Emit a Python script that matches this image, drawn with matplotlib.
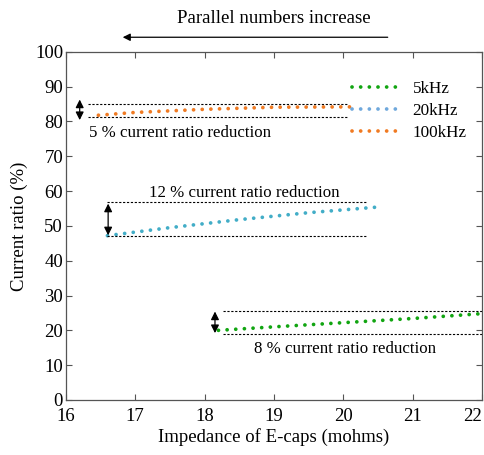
import matplotlib
matplotlib.use("Agg")
import matplotlib.pyplot as plt
from matplotlib.lines import Line2D

plt.rcParams['font.family'] = ['Liberation Serif', 'DejaVu Serif']
plt.rcParams['font.size'] = 13.5

# Current ratio versus E-cap impedance at three switching frequencies
x_5k = [18.2, 19.0, 20.0, 21.0, 22.0]
y_5k = [20.0, 21.0, 22.2, 23.4, 24.8]
x_20k = [16.6, 17.5, 18.5, 19.5, 20.55]
y_20k = [47.2, 49.5, 51.8, 53.8, 55.5]
x_100k = [16.47, 17.0, 18.0, 19.0, 20.13]
y_100k = [81.8, 82.6, 83.5, 84.1, 84.2]

series_labels = ['5kHz', '20kHz', '100kHz']
line_colors = ['#11a511', '#42adc7', '#f07a22']
legend_colors = ['#11a511', '#6fa8dc', '#f07a22']

# reduction bands: (x start, x end, lower, upper, text, text x, text y)
bands = [
    (16.32, 20.06, 81.4, 84.9, '5 % current ratio reduction', 17.64, 76.7),
    (16.6, 20.32, 47.0, 56.9, '12 % current ratio reduction', 18.58, 59.5),
    (18.27, 22.0, 19.0, 25.6, '8 % current ratio reduction', 20.02, 14.7),
]
# double arrows: (x, bottom, top)
arrows = [(16.2, 80.4, 86.3), (16.61, 47.3, 56.4), (18.15, 19.2, 25.4)]

fig = plt.figure(figsize=(4.84, 4.55), dpi=100)
ax = fig.add_axes([0.136, 0.121, 0.860, 0.765])

dot = (0, (0.01, 2.3))
for xs, ys, c in zip([x_5k, x_20k, x_100k], [y_5k, y_20k, y_100k], line_colors):
    ax.plot(xs, ys, color=c, lw=2.7, linestyle=dot, dash_capstyle='round', clip_on=False)

for (x0, x1, lo, hi, txt, tx, ty), (axx, a0, a1) in zip(bands, arrows):
    ax.hlines([lo, hi], x0, x1, colors='black', linestyles=(0, (2, 1.5)), lw=0.8)
    ax.annotate('', xy=(axx, a1), xytext=(axx, a0),
                arrowprops=dict(arrowstyle='<|-|>', color='black', lw=0.9,
                                mutation_scale=12, shrinkA=0, shrinkB=0))
    ax.text(tx, ty, txt, ha='center', va='center', fontsize=12.2)

# direction of increasing parallel count
ax.annotate('', xy=(16.82, 104.2), xytext=(20.64, 104.2), annotation_clip=False,
            arrowprops=dict(arrowstyle='-|>', color='black', lw=0.9,
                            mutation_scale=11, shrinkA=0, shrinkB=0))
ax.text(19.0, 109.7, 'Parallel numbers increase', ha='center', va='center',
        fontsize=13.5, clip_on=False)

ax.set_xlim(16, 22)
ax.set_ylim(0, 100)
ax.set_xticks(range(16, 23))
ax.set_yticks(range(0, 101, 10))
ax.tick_params(direction='in', top=True, right=True, length=4, width=0.8,
               color='#555555', labelsize=13.5)
ax.tick_params(axis='x', pad=6)
ax.tick_params(axis='y', pad=2)
for s in ax.spines.values():
    s.set_color('#555555')
    s.set_linewidth(0.9)

# keep the last x tick label inside the figure edge
fig.canvas.draw()
ax.get_xticklabels()[-1].set_horizontalalignment('right')

ax.set_xlabel('Impedance of E-caps (mohms)', fontsize=13.5, labelpad=2)
ax.set_ylabel('Current ratio (%)', fontsize=13.5, labelpad=5)

handles = [Line2D([0], [0], color=c, lw=2.7, linestyle=dot, dash_capstyle='round')
           for c in legend_colors]
ax.legend(handles, series_labels, loc='upper right', bbox_to_anchor=(1.0, 0.96),
          frameon=False, fontsize=12.3, handlelength=2.9, handletextpad=0.65,
          labelspacing=0.35)

fig.savefig('out.png', dpi=100)
